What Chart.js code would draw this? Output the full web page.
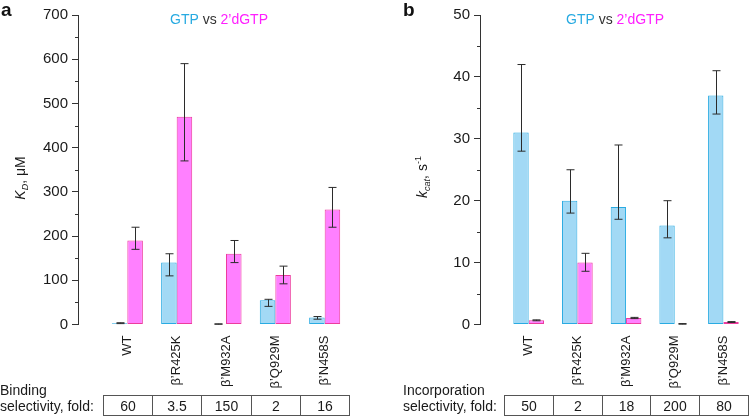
<!DOCTYPE html>
<html>
<head>
<meta charset="utf-8">
<script src="https://cdn.jsdelivr.net/npm/chart.js@4.4.0/dist/chart.umd.min.js"></script>
<style>
html, body { margin: 0; padding: 0; background: #fff; }
#wrap { position: relative; width: 750px; height: 416px; }
.panel { position: absolute; top: 0; width: 375px; height: 416px; }
</style>
</head>
<body>
<div id="wrap">
  <div class="panel" style="left:0"><canvas id="chartA" width="375" height="416"></canvas></div>
  <div class="panel" style="left:375px"><canvas id="chartB" width="375" height="416"></canvas></div>
</div>
<script>
var mutants = ["WT", "β’R425K", "β’M932A", "β’Q929M", "β’N458S"];

// panel a : K_D, uM
var kdGTP      = [3, 140, 1, 55, 16];
var kdGTPlow   = [2, 110, 0.5, 41, 12];
var kdGTPhigh  = [4, 160, 1.5, 57, 18];
var kdDGTP     = [190, 470, 160, 112, 260];
var kdDGTPlow  = [170, 370, 140, 92, 220];
var kdDGTPhigh = [220, 590, 190, 132, 310];
var bindingFold = ["60", "3.5", "150", "2", "16"];

// panel b : k_cat, s-1
var kcatGTP      = [31, 20, 19, 16, 37];
var kcatGTPlow   = [28, 18, 17, 14, 34];
var kcatGTPhigh  = [42, 25, 29, 20, 41];
var kcatDGTP     = [0.7, 10, 1.05, 0.1, 0.4];
var kcatDGTPlow  = [0.6, 8.6, 0.95, 0.05, 0.33];
var kcatDGTPhigh = [0.75, 11.5, 1.15, 0.15, 0.47];
var incorpFold = ["50", "2", "18", "200", "80"];

var FONT = "'Liberation Sans', Arial, Helvetica, sans-serif";
Chart.defaults.font.family = FONT;

function toXY(vals) {
    return vals.map(function (v, i) { return { x: i + 1, y: v }; });
}

// draws text made of several pieces (italic, subscript...) centred on cx
function drawParts(ctx, parts, cx, baseY) {
    var total = 0;
    parts.forEach(function (p) { ctx.font = p.font; total += ctx.measureText(p.t).width; });
    var x = cx - total / 2;
    ctx.textAlign = "left";
    ctx.textBaseline = "alphabetic";
    parts.forEach(function (p) {
        ctx.font = p.font;
        ctx.fillStyle = p.color || "#1a1a1a";
        ctx.fillText(p.t, x, baseY + (p.dy || 0));
        x += ctx.measureText(p.t).width;
    });
}

var extras = {
    id: "extras",
    afterDatasetsDraw: function (chart) {
        var ctx = chart.ctx;
        var ys = chart.scales.y;
        ctx.save();
        ctx.strokeStyle = "#2b2b2b";
        ctx.lineWidth = 1;
        chart.data.datasets.forEach(function (ds, d) {
            var meta = chart.getDatasetMeta(d);
            meta.data.forEach(function (bar, i) {
                var x = Math.round(bar.x) + 0.5;
                var yh = ys.getPixelForValue(ds.errHigh[i]);
                var yl = ys.getPixelForValue(ds.errLow[i]);
                ctx.beginPath();
                ctx.moveTo(x, yh); ctx.lineTo(x, yl);
                ctx.moveTo(x - 4, yh); ctx.lineTo(x + 4, yh);
                ctx.moveTo(x - 4, yl); ctx.lineTo(x + 4, yl);
                ctx.stroke();
            });
        });
        ctx.restore();
    },
    afterDraw: function (chart) {
        var o = chart.options.plugins.extras;
        var ctx = chart.ctx;
        var ys = chart.scales.y, xs = chart.scales.x;
        ctx.save();

        // minor ticks
        ctx.strokeStyle = "#333";
        ctx.lineWidth = 1;
        var ax = ys.right;
        for (var v = o.step / 2; v < o.yMax; v += o.step) {
            var py = Math.round(ys.getPixelForValue(v)) + 0.5;
            ctx.beginPath();
            ctx.moveTo(ax - 3, py); ctx.lineTo(ax, py);
            ctx.stroke();
        }

        // panel letter
        ctx.font = "bold 19px " + FONT;
        ctx.fillStyle = "#111";
        ctx.textAlign = "left";
        ctx.textBaseline = "alphabetic";
        ctx.fillText(o.letter, o.letterX, 16);

        // title
        drawParts(ctx, [
            { t: "GTP", font: "14px " + FONT, color: "#27aae1" },
            { t: " vs ", font: "14px " + FONT, color: "#333" },
            { t: "2’dGTP", font: "14px " + FONT, color: "#ff1fff" }
        ], o.titleX, 24);

        // y axis title
        ctx.save();
        ctx.translate(o.yTitleX, o.yTitleY);
        ctx.rotate(-Math.PI / 2);
        drawParts(ctx, o.yTitle, 0, 5);
        ctx.restore();

        // selectivity table
        ctx.strokeStyle = "#555";
        ctx.lineWidth = 1;
        var top = 395.5, bot = 415.5;
        ctx.font = "14px " + FONT;
        ctx.fillStyle = "#1a1a1a";
        ctx.textAlign = "left";
        ctx.fillText(o.rowLabel[0], o.rowLabelX, 395);
        ctx.fillText(o.rowLabel[1], o.rowLabelX, 410.5);
        ctx.textAlign = "center";
        o.fold.forEach(function (f, i) {
            var l = Math.round(xs.getPixelForValue(i + 0.5)) + 0.5;
            var r = Math.round(xs.getPixelForValue(i + 1.5)) + 0.5;
            if (r > chart.width - 0.5) r = chart.width - 2.5;
            ctx.strokeRect(l, top, r - l, bot - top);
            ctx.fillText(f, (l + r) / 2, 410.5);
        });
        ctx.restore();
    }
};

function makeChart(id, o) {
    var ctx = document.getElementById(id).getContext("2d");
    return new Chart(ctx, {
        type: "bar",
        data: {
            datasets: [{
                label: "GTP",
                data: toXY(o.gtp),
                errLow: o.gtpLow,
                errHigh: o.gtpHigh,
                backgroundColor: "#a2d9f5",
                borderColor: "#29abe2",
                borderWidth: 1,
                borderSkipped: false,
                categoryPercentage: 0.63,
                barPercentage: 1
            }, {
                label: "2’dGTP",
                data: toXY(o.dgtp),
                errLow: o.dgtpLow,
                errHigh: o.dgtpHigh,
                backgroundColor: "#ff80ff",
                borderColor: "#ec3c9e",
                borderWidth: 1,
                borderSkipped: false,
                categoryPercentage: 0.63,
                barPercentage: 1
            }]
        },
        options: {
            responsive: false,
            animation: false,
            layout: { padding: { top: 15, right: o.padRight, left: 0, bottom: 0 } },
            plugins: {
                legend: { display: false },
                tooltip: { enabled: false },
                extras: o
            },
            scales: {
                x: {
                    type: "linear",
                    offset: false,
                    min: 0,
                    max: o.xMax,
                    grid: { display: false, drawTicks: false, offset: false },
                    border: { display: false },
                    afterBuildTicks: function (s) {
                        s.ticks = mutants.map(function (m, i) { return { value: i + 1 }; });
                    },
                    afterFit: function (s) { s.height = 91.5; },
                    ticks: {
                        autoSkip: false,
                        minRotation: 90,
                        maxRotation: 90,
                        padding: 11,
                        color: "#1a1a1a",
                        font: { size: 13 },
                        callback: function (v) { return mutants[v - 1]; }
                    }
                },
                y: {
                    min: 0,
                    max: o.yMax,
                    afterFit: function (s) { s.width = o.axisW; },
                    border: { color: "#333", width: 1 },
                    grid: { drawOnChartArea: false, tickLength: 6, color: "#333" },
                    ticks: { stepSize: o.step, padding: 4, color: "#1a1a1a", font: { size: 15 } }
                }
            }
        },
        plugins: [extras]
    });
}

makeChart("chartA", {
    gtp: kdGTP, gtpLow: kdGTPlow, gtpHigh: kdGTPhigh,
    dgtp: kdDGTP, dgtpLow: kdDGTPlow, dgtpHigh: kdDGTPhigh,
    fold: bindingFold,
    rowLabel: ["Binding", "selectivity, fold:"], rowLabelX: 0,
    letter: "a", letterX: 1,
    titleX: 219,
    yTitle: [
        { t: "K", font: "italic 14px " + FONT },
        { t: "D", font: "italic 9px " + FONT, dy: 3 },
        { t: ", μM", font: "14px " + FONT }
    ],
    yTitleX: 20, yTitleY: 178,
    yMax: 700, step: 100, axisW: 78, xMax: 6, padRight: 1
});

makeChart("chartB", {
    gtp: kcatGTP, gtpLow: kcatGTPlow, gtpHigh: kcatGTPhigh,
    dgtp: kcatDGTP, dgtpLow: kcatDGTPlow, dgtpHigh: kcatDGTPhigh,
    fold: incorpFold,
    rowLabel: ["Incorporation", "selectivity, fold:"], rowLabelX: 28,
    letter: "b", letterX: 28,
    titleX: 240,
    yTitle: [
        { t: "k", font: "italic 14px " + FONT },
        { t: "cat", font: "italic 9px " + FONT, dy: 3 },
        { t: ", s", font: "14px " + FONT },
        { t: "-1", font: "9px " + FONT, dy: -6 }
    ],
    yTitleX: 47, yTitleY: 177,
    yMax: 50, step: 10, axisW: 105, xMax: 5.5, padRight: 0
});
</script>
</body>
</html>
